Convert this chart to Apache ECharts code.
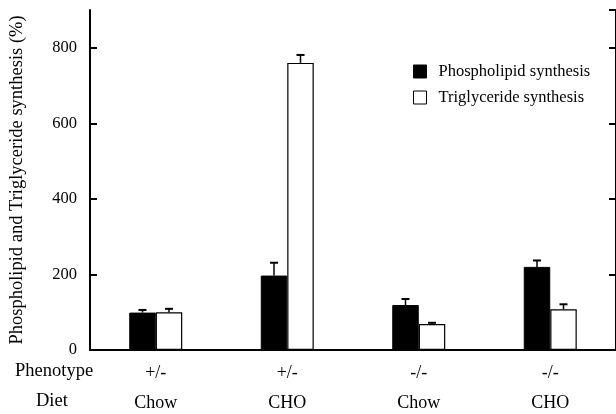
<!DOCTYPE html>
<html><head><meta charset="utf-8">
<script src="https://cdn.jsdelivr.net/npm/echarts@6/dist/echarts.min.js"></script>
<style>html,body{margin:0;padding:0;background:#fff}#c{width:616px;height:414px}</style>
</head><body><div id="c"></div>
<script>
var phenotypes = ['+/-', '+/-', '-/-', '-/-'];
var diets = ['Chow', 'CHO', 'Chow', 'CHO'];
var phospho = [99, 197, 119, 220];
var phosphoErr = [7, 34, 16, 17];
var trig = [100, 760, 69, 108];
var trigErr = [9, 21, 3, 13];
var yTicks = [0, 200, 400, 600, 800];

var FONT = 'Liberation Serif';
var cats = phenotypes.map(function(p, i){ return p + '|' + diets[i]; });

function errSeries(vals, errs, offset) {
  return {
    type: 'custom',
    z: 5,
    silent: true,
    data: vals.map(function(v, i){ return [i, v, v + errs[i]]; }),
    renderItem: function(params, api) {
      var base = api.coord([api.value(0), api.value(1)]);
      var top = api.coord([api.value(0), api.value(2)]);
      var x = base[0] + offset;
      return {
        type: 'group',
        children: [
          {type: 'line', shape: {x1: x, y1: base[1], x2: x, y2: top[1]}, style: {stroke: '#000', lineWidth: 1.5}},
          {type: 'line', shape: {x1: x - 4, y1: top[1], x2: x + 4, y2: top[1]}, style: {stroke: '#000', lineWidth: 2}}
        ]
      };
    }
  };
}

var chart = echarts.init(document.getElementById('c'));
chart.setOption({
  animation: false,
  backgroundColor: '#fff',
  textStyle: {fontFamily: FONT, color: '#000'},
  grid: {left: 90, top: 10, right: -1, bottom: 64},
  legend: {
    orient: 'vertical', left: 408, top: 58, itemWidth: 13, itemHeight: 13, itemGap: 9,
    icon: 'rect',
    textStyle: {fontFamily: FONT, fontSize: 16.5, color: '#000', padding: [0, 0, 0, 7]},
    data: [
      {name: 'Phospholipid synthesis', itemStyle: {color: '#000', borderColor: '#000', borderWidth: 1}},
      {name: 'Triglyceride synthesis', itemStyle: {color: '#fff', borderColor: '#000', borderWidth: 1}}
    ]
  },
  xAxis: [{
    type: 'category', data: cats, position: 'bottom',
    axisLine: {lineStyle: {color: '#000', width: 2}},
    axisTick: {inside: true, length: 7, lineStyle: {color: '#000', width: 2}},
    axisLabel: {
      margin: 8, interval: 0,
      formatter: function(v){ var p = v.split('|'); return '{a|' + p[0] + '}\n{b|' + p[1] + '}'; },
      rich: {
        a: {fontFamily: FONT, fontSize: 18, color: '#000', lineHeight: 30},
        b: {fontFamily: FONT, fontSize: 18, color: '#000', lineHeight: 30}
      }
    }
  }, {
    type: 'category', data: cats, position: 'top',
    axisLine: {lineStyle: {color: '#000', width: 2}},
    axisTick: {inside: true, length: 7, lineStyle: {color: '#000', width: 2}},
    axisLabel: {show: false}
  }],
  yAxis: [{
    type: 'value', min: 0, max: 900, interval: 200,
    name: 'Phospholipid and Triglyceride synthesis (%)',
    nameLocation: 'middle', nameGap: 63,
    nameTextStyle: {fontFamily: FONT, fontSize: 18.5, color: '#000'},
    axisLine: {show: true, lineStyle: {color: '#000', width: 2}},
    axisTick: {show: true, inside: true, length: 7, lineStyle: {color: '#000', width: 2}},
    axisLabel: {fontFamily: FONT, fontSize: 16.5, color: '#000', margin: 13, showMaxLabel: false,
      formatter: function(v){ return yTicks.indexOf(v) >= 0 ? String(v) : ''; }},
    splitLine: {show: false}
  }, {
    type: 'value', min: 0, max: 900, interval: 200, position: 'right',
    axisLine: {show: true, lineStyle: {color: '#000', width: 2}},
    axisTick: {show: true, inside: true, length: 7, lineStyle: {color: '#000', width: 2}},
    axisLabel: {show: false},
    splitLine: {show: false}
  }],
  graphic: [
    {type: 'text', left: 15, top: 362, style: {text: 'Phenotype', fontFamily: FONT, fontSize: 18.5, fill: '#000'}},
    {type: 'text', left: 36, top: 392, style: {text: 'Diet', fontFamily: FONT, fontSize: 18.5, fill: '#000'}}
  ],
  series: [
    {name: 'Phospholipid synthesis', type: 'bar', data: phospho, barWidth: 26.5, barGap: '0%',
     itemStyle: {color: '#000', borderColor: '#000', borderWidth: 1}},
    {name: 'Triglyceride synthesis', type: 'bar', data: trig, barWidth: 26.5, barGap: '0%',
     itemStyle: {color: '#fff', borderColor: '#000', borderWidth: 1.2}},
    errSeries(phospho, phosphoErr, -13.25),
    errSeries(trig, trigErr, 13.25)
  ]
});
</script></body></html>
